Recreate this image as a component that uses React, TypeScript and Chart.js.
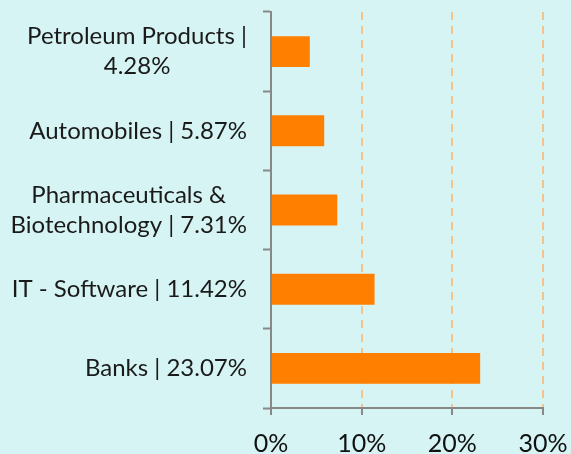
import React, { useEffect, useRef } from "react";
import { Chart, registerables } from "chart.js";

Chart.register(...registerables);

const categories = [
  "Petroleum Products",
  "Automobiles",
  "Pharmaceuticals & Biotechnology",
  "IT - Software",
  "Banks",
];
const values = [4.28, 5.87, 7.31, 11.42, 23.07];
const labelLines = [
  ["Petroleum Products |", "4.28%"],
  ["Automobiles | 5.87%"],
  ["Pharmaceuticals &", "Biotechnology | 7.31%"],
  ["IT - Software | 11.42%"],
  ["Banks | 23.07%"],
];
const xTicks = [0, 10, 20, 30];

const BG = "#d6f4f4";
const FONT = "Lato, 'Open Sans', sans-serif";

export default function App() {
  const ref = useRef<HTMLCanvasElement>(null);
  useEffect(() => {
    document.body.style.margin = "0";
    const labelPlugin = {
      id: "wrappedLabels",
      afterDraw(chart: any) {
        const ctx = chart.ctx;
        const y = chart.scales.y;
        ctx.save();
        ctx.font = `24px ${FONT}`;
        ctx.fillStyle = "#1a1a1a";
        ctx.textAlign = "center";
        ctx.textBaseline = "middle";
        const lh = 30;
        const rightEdge = 247;
        labelLines.forEach((lines, i) => {
          const cy = y.getPixelForValue(i);
          const w = Math.max(...lines.map((l) => ctx.measureText(l).width));
          const cx = rightEdge - w / 2;
          const top = cy - ((lines.length - 1) * lh) / 2;
          lines.forEach((l, j) => ctx.fillText(l, cx, top + j * lh));
        });
        ctx.restore();
      },
    };
    const chart = new Chart(ref.current!, {
      type: "bar",
      data: {
        labels: categories,
        datasets: [
          {
            data: values,
            backgroundColor: "#ff8000",
            borderWidth: 0,
            categoryPercentage: 1,
            barPercentage: 0.39,
          },
        ],
      },
      plugins: [labelPlugin],
      options: {
        indexAxis: "y",
        animation: false,
        responsive: false,
        events: [],
        layout: { padding: { top: 12, right: 28, left: 0, bottom: 0 } },
        plugins: { legend: { display: false }, tooltip: { enabled: false } },
        scales: {
          x: {
            min: 0,
            max: 30,
            afterBuildTicks: (s: any) => {
              s.ticks = xTicks.map((v) => ({ value: v }));
            },
            afterFit: (s: any) => {
              s.height = 46;
              s.paddingLeft = 0;
              s.paddingRight = 0;
            },
            ticks: {
              callback: (v: any) => v + "%",
              color: "#111",
              font: { family: FONT, size: 25 },
              padding: 14,
              maxRotation: 0,
            },
            grid: {
              color: (c: any) => (c.index === 0 ? "rgba(0,0,0,0)" : "#f2c48c"),
              lineWidth: 2,
              tickColor: "#888",
              tickWidth: 2,
              tickLength: 7,
            },
            border: { display: true, color: "#888", width: 2, dash: [8, 6] },
          },
          y: {
            afterFit: (s: any) => {
              s.width = 271;
              s.paddingTop = 0;
              s.paddingBottom = 0;
            },
            ticks: { display: false },
            grid: {
              offset: true,
              drawOnChartArea: false,
              color: "#888",
              tickColor: "#888",
              tickWidth: 2,
              tickLength: 8,
            },
            border: { display: true, color: "#888", width: 2 },
          },
        },
      },
    } as any);
    return () => chart.destroy();
  }, []);
  return (
    <div style={{ width: 571, height: 454, background: BG }}>
      <canvas ref={ref} width={571} height={454} style={{ display: "block" }} />
    </div>
  );
}
